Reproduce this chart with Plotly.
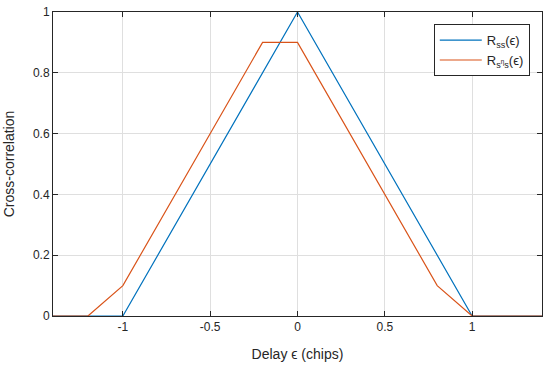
import plotly.graph_objects as go

x_ss = [-1.4, -1.0, 0.0, 1.0, 1.4]
y_ss = [0.0, 0.0, 1.0, 0.0, 0.0]
x_sns = [-1.4, -1.2, -1.0, -0.2, 0.0, 0.8, 1.0, 1.4]
y_sns = [0.0, 0.0, 0.1, 0.9, 0.9, 0.1, 0.0, 0.0]
xticks = [-1, -0.5, 0, 0.5, 1]
xticklabels = ["-1", "-0.5", "0", "0.5", "1"]
yticks = [0, 0.2, 0.4, 0.6, 0.8, 1]
yticklabels = ["0", "0.2", "0.4", "0.6", "0.8", "1"]

FONT = "Liberation Sans, Arial"
fig = go.Figure()
fig.add_trace(go.Scatter(x=x_ss, y=y_ss, mode="lines", line=dict(color="#0072BD", width=1.2),
                         name="R<sub>ss</sub>(ϵ)"))
fig.add_trace(go.Scatter(x=x_sns, y=y_sns, mode="lines", line=dict(color="#D95319", width=1.2),
                         name="R<sub>s<sup>η</sup>s</sub>(ϵ)"))

axis_common = dict(showline=True, linecolor="#262626", linewidth=1, mirror="ticks",
                   ticks="inside", ticklen=5, tickcolor="#262626", automargin=False,
                   showgrid=True, gridcolor="#DFDFDF", gridwidth=1, zeroline=False,
                   tickfont=dict(family=FONT, size=12, color="#262626"))
fig.update_xaxes(range=[-1.4, 1.4], tickvals=xticks, ticktext=xticklabels,
                 title=dict(text="Delay ϵ (chips)", font=dict(family=FONT, size=14, color="#262626")),
                 **axis_common)
fig.update_yaxes(range=[0, 1], tickvals=yticks, ticktext=yticklabels,
                 title=dict(text="Cross-correlation", font=dict(family=FONT, size=14, color="#262626")),
                 **axis_common)
fig.update_layout(width=550, height=368, margin=dict(l=53, r=8, t=12, b=52, autoexpand=False),
                  paper_bgcolor="white", plot_bgcolor="white",
                  legend=dict(x=0.975, y=0.96, xanchor="right", yanchor="top",
                              bordercolor="#262626", borderwidth=1, bgcolor="white",
                              itemwidth=42,
                              font=dict(family=FONT, size=13, color="#262626")),
                  showlegend=True)
fig.write_html("out.html", config={"displayModeBar": False},
               post_script="document.body.style.margin='0';document.body.style.padding='0';")
